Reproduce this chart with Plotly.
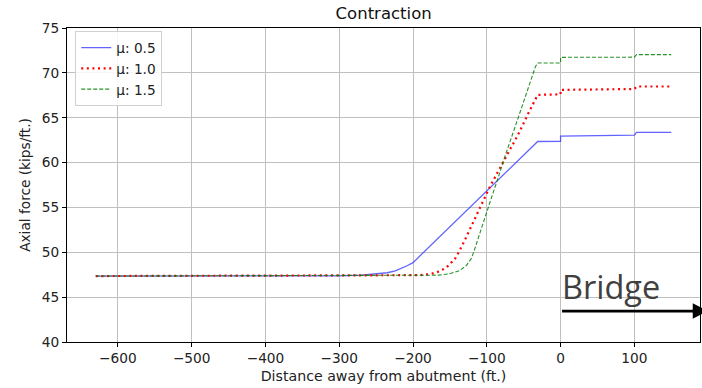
import plotly.graph_objects as go

# ---- data ----
x_mu05 = [-630, -400, -330, -300, -270, -247, -235, -224, -215, -208, -200, -31, 0, 0, 100, 103, 150]
y_mu05 = [47.35, 47.35, 47.36, 47.38, 47.45, 47.58, 47.72, 47.93, 48.2, 48.5, 48.85, 62.35, 62.37, 62.95, 63.05, 63.37, 63.37]

x_mu10 = [-630, -220, -190, -175, -163, -152, -142, -133, -124, -115, -106, -97, -88, -76, -57, -43, -31, 0, 0, 100, 103, 150]
y_mu10 = [47.35, 47.37, 47.45, 47.6, 47.9, 48.5, 49.4, 50.8, 52.4, 54.0, 55.6, 57.1, 58.5, 60.3, 63.2, 65.6, 67.55, 67.6, 68.1, 68.2, 68.48, 68.48]

x_mu15 = [-630, -185, -165, -151, -137, -128, -121, -117, -112, -108, -101, -94, -85, -77, -57, -34, -31, 0, 0, 100, 103, 150]
y_mu15 = [47.35, 47.37, 47.45, 47.6, 47.95, 48.5, 49.3, 50.2, 51.5, 52.6, 54.3, 56.0, 58.2, 60.3, 65.1, 70.7, 71.1, 71.1, 71.73, 71.75, 72.03, 72.03]

series_names = ["μ: 0.5", "μ: 1.0", "μ: 1.5"]
x_ticks = [-600, -500, -400, -300, -200, -100, 0, 100]
y_ticks = [40, 45, 50, 55, 60, 65, 70, 75]
title_text = "Contraction"
x_title = "Distance away from abutment (ft.)"
y_title = "Axial force (kips/ft.)"
bridge_label = "Bridge"
bridge_start = 0
bridge_arrow_end = 200
bridge_arrow_level = 43.45

FONT = "DejaVu Sans"
FS = 13.7
X_RANGE = [-669, 189]
Y_RANGE = [40, 75]

fig = go.Figure()
fig.add_trace(go.Scatter(x=x_mu05, y=y_mu05, mode="lines", name=series_names[0],
                         line=dict(color="rgba(60,60,255,0.8)", width=1.3)))
fig.add_trace(go.Scatter(x=x_mu10, y=y_mu10, mode="lines", name=series_names[1],
                         line=dict(color="rgb(255,0,0)", width=2.2, dash="2px,3.6px")))
fig.add_trace(go.Scatter(x=x_mu15, y=y_mu15, mode="lines", name=series_names[2],
                         line=dict(color="rgba(0,128,0,0.85)", width=1.1, dash="4px,2px")))

axis_common = dict(
    showgrid=True, gridcolor="#c0c0c0", gridwidth=1,
    showline=True, linecolor="black", linewidth=1, mirror=True,
    ticks="outside", ticklen=4, tickcolor="black", tickwidth=1,
    zeroline=False, tickfont=dict(family=FONT, size=FS, color="#222"),
)

fig.update_xaxes(range=X_RANGE, tickmode="array", tickvals=x_ticks,
                 title=dict(text=x_title, font=dict(family=FONT, size=14.2, color="#222"), standoff=5),
                 **axis_common)
fig.update_yaxes(range=Y_RANGE, tickmode="array", tickvals=y_ticks,
                 title=dict(text=y_title, font=dict(family=FONT, size=FS, color="#222"), standoff=8),
                 **axis_common)

fig.update_layout(
    width=702, height=388,
    margin=dict(l=67, r=2, t=28, b=46),
    paper_bgcolor="white", plot_bgcolor="white",
    title=dict(text=title_text, x=0.5465, xanchor="center", y=0.965, yanchor="middle",
               font=dict(family=FONT, size=16.5, color="#111")),
    showlegend=True,
    legend=dict(x=0.013, y=0.99, xanchor="left", yanchor="top",
                bgcolor="rgba(255,255,255,0.85)", bordercolor="#d0d0d0", borderwidth=1,
                font=dict(family=FONT, size=FS, color="#222"), tracegroupgap=0,
                itemwidth=30),
)

# Bridge arrow and label
fig.add_annotation(x=bridge_arrow_end, y=bridge_arrow_level, ax=bridge_start, ay=bridge_arrow_level,
                   xref="x", yref="y", axref="x", ayref="y",
                   showarrow=True, arrowhead=2, arrowsize=1.1, arrowwidth=2.8,
                   arrowcolor="black", text="")
fig.add_annotation(x=bridge_start, y=46.0, xref="x", yref="y", text=bridge_label,
                   showarrow=False, xanchor="left", yanchor="middle", xshift=-1, yshift=2,
                   font=dict(family="Open Sans", size=32.5, color="#404040"))

fig.write_html("out.html")
